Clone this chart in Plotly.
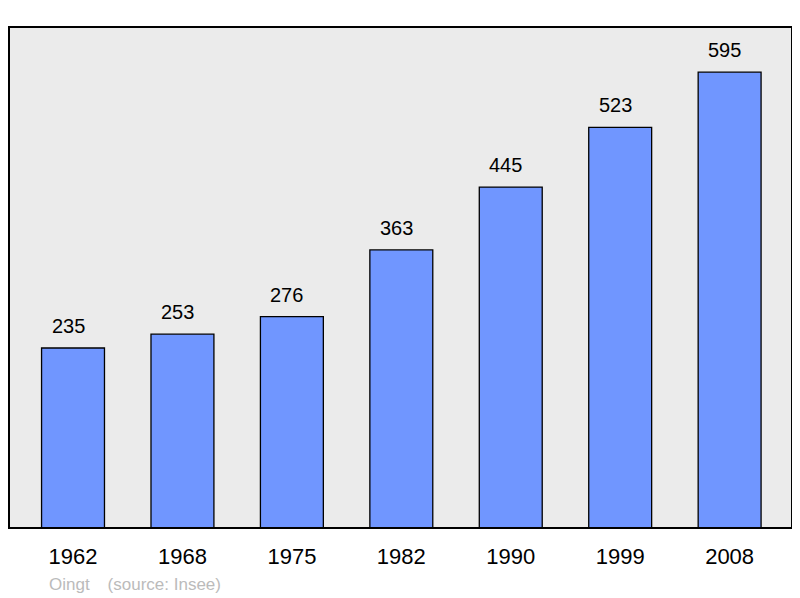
import plotly.graph_objects as go

years = ["1962", "1968", "1975", "1982", "1990", "1999", "2008"]
population = [235, 253, 276, 363, 445, 523, 595]
commune = "Oingt"
source = "(source: Insee)"

W, H = 792, 590
L, R, T, B = 1, 8, 19, 70

xs = list(range(len(years)))
fig = go.Figure()
fig.add_trace(go.Bar(
    x=xs, y=population, width=0.575,
    marker=dict(color="#7096FF", line=dict(color="#000000", width=1.3)),
    hoverinfo="skip",
))
for x, v in zip(xs, population):
    fig.add_annotation(x=x, y=v, text=str(v), showarrow=False, yanchor="middle",
                       yshift=22, xshift=-5,
                       font=dict(family="Liberation Sans, Arial", size=20, color="#000"))

fig.add_annotation(xref="paper", yref="paper", x=(39 - L) / (W - L - R), y=(520 - 576) / (H - T - B),
                   xanchor="left", yanchor="middle", showarrow=False,
                   text=commune + "\u2002  " + source,
                   font=dict(family="Liberation Sans, Arial", size=17, color="#BBBBBB"))

fig.add_shape(type="rect", xref="paper", yref="paper", x0=0, x1=1, y0=0, y1=1,
              line=dict(color="#000", width=2), layer="above")

fig.update_layout(
    width=W, height=H, margin=dict(l=L, r=R, t=T, b=B),
    paper_bgcolor="white", plot_bgcolor="#EBEBEB", showlegend=False,
    xaxis=dict(range=[-0.585, 6.57], tickvals=xs, ticktext=years, showgrid=False, zeroline=False,
               showline=False, ticks="", ticklabelstandoff=13,
               tickfont=dict(family="Liberation Sans, Arial", size=22, color="#000")),
    yaxis=dict(range=[0, 654], showticklabels=False, showgrid=False, zeroline=False,
               showline=False, ticks=""),
)
fig.write_html("out.html")
